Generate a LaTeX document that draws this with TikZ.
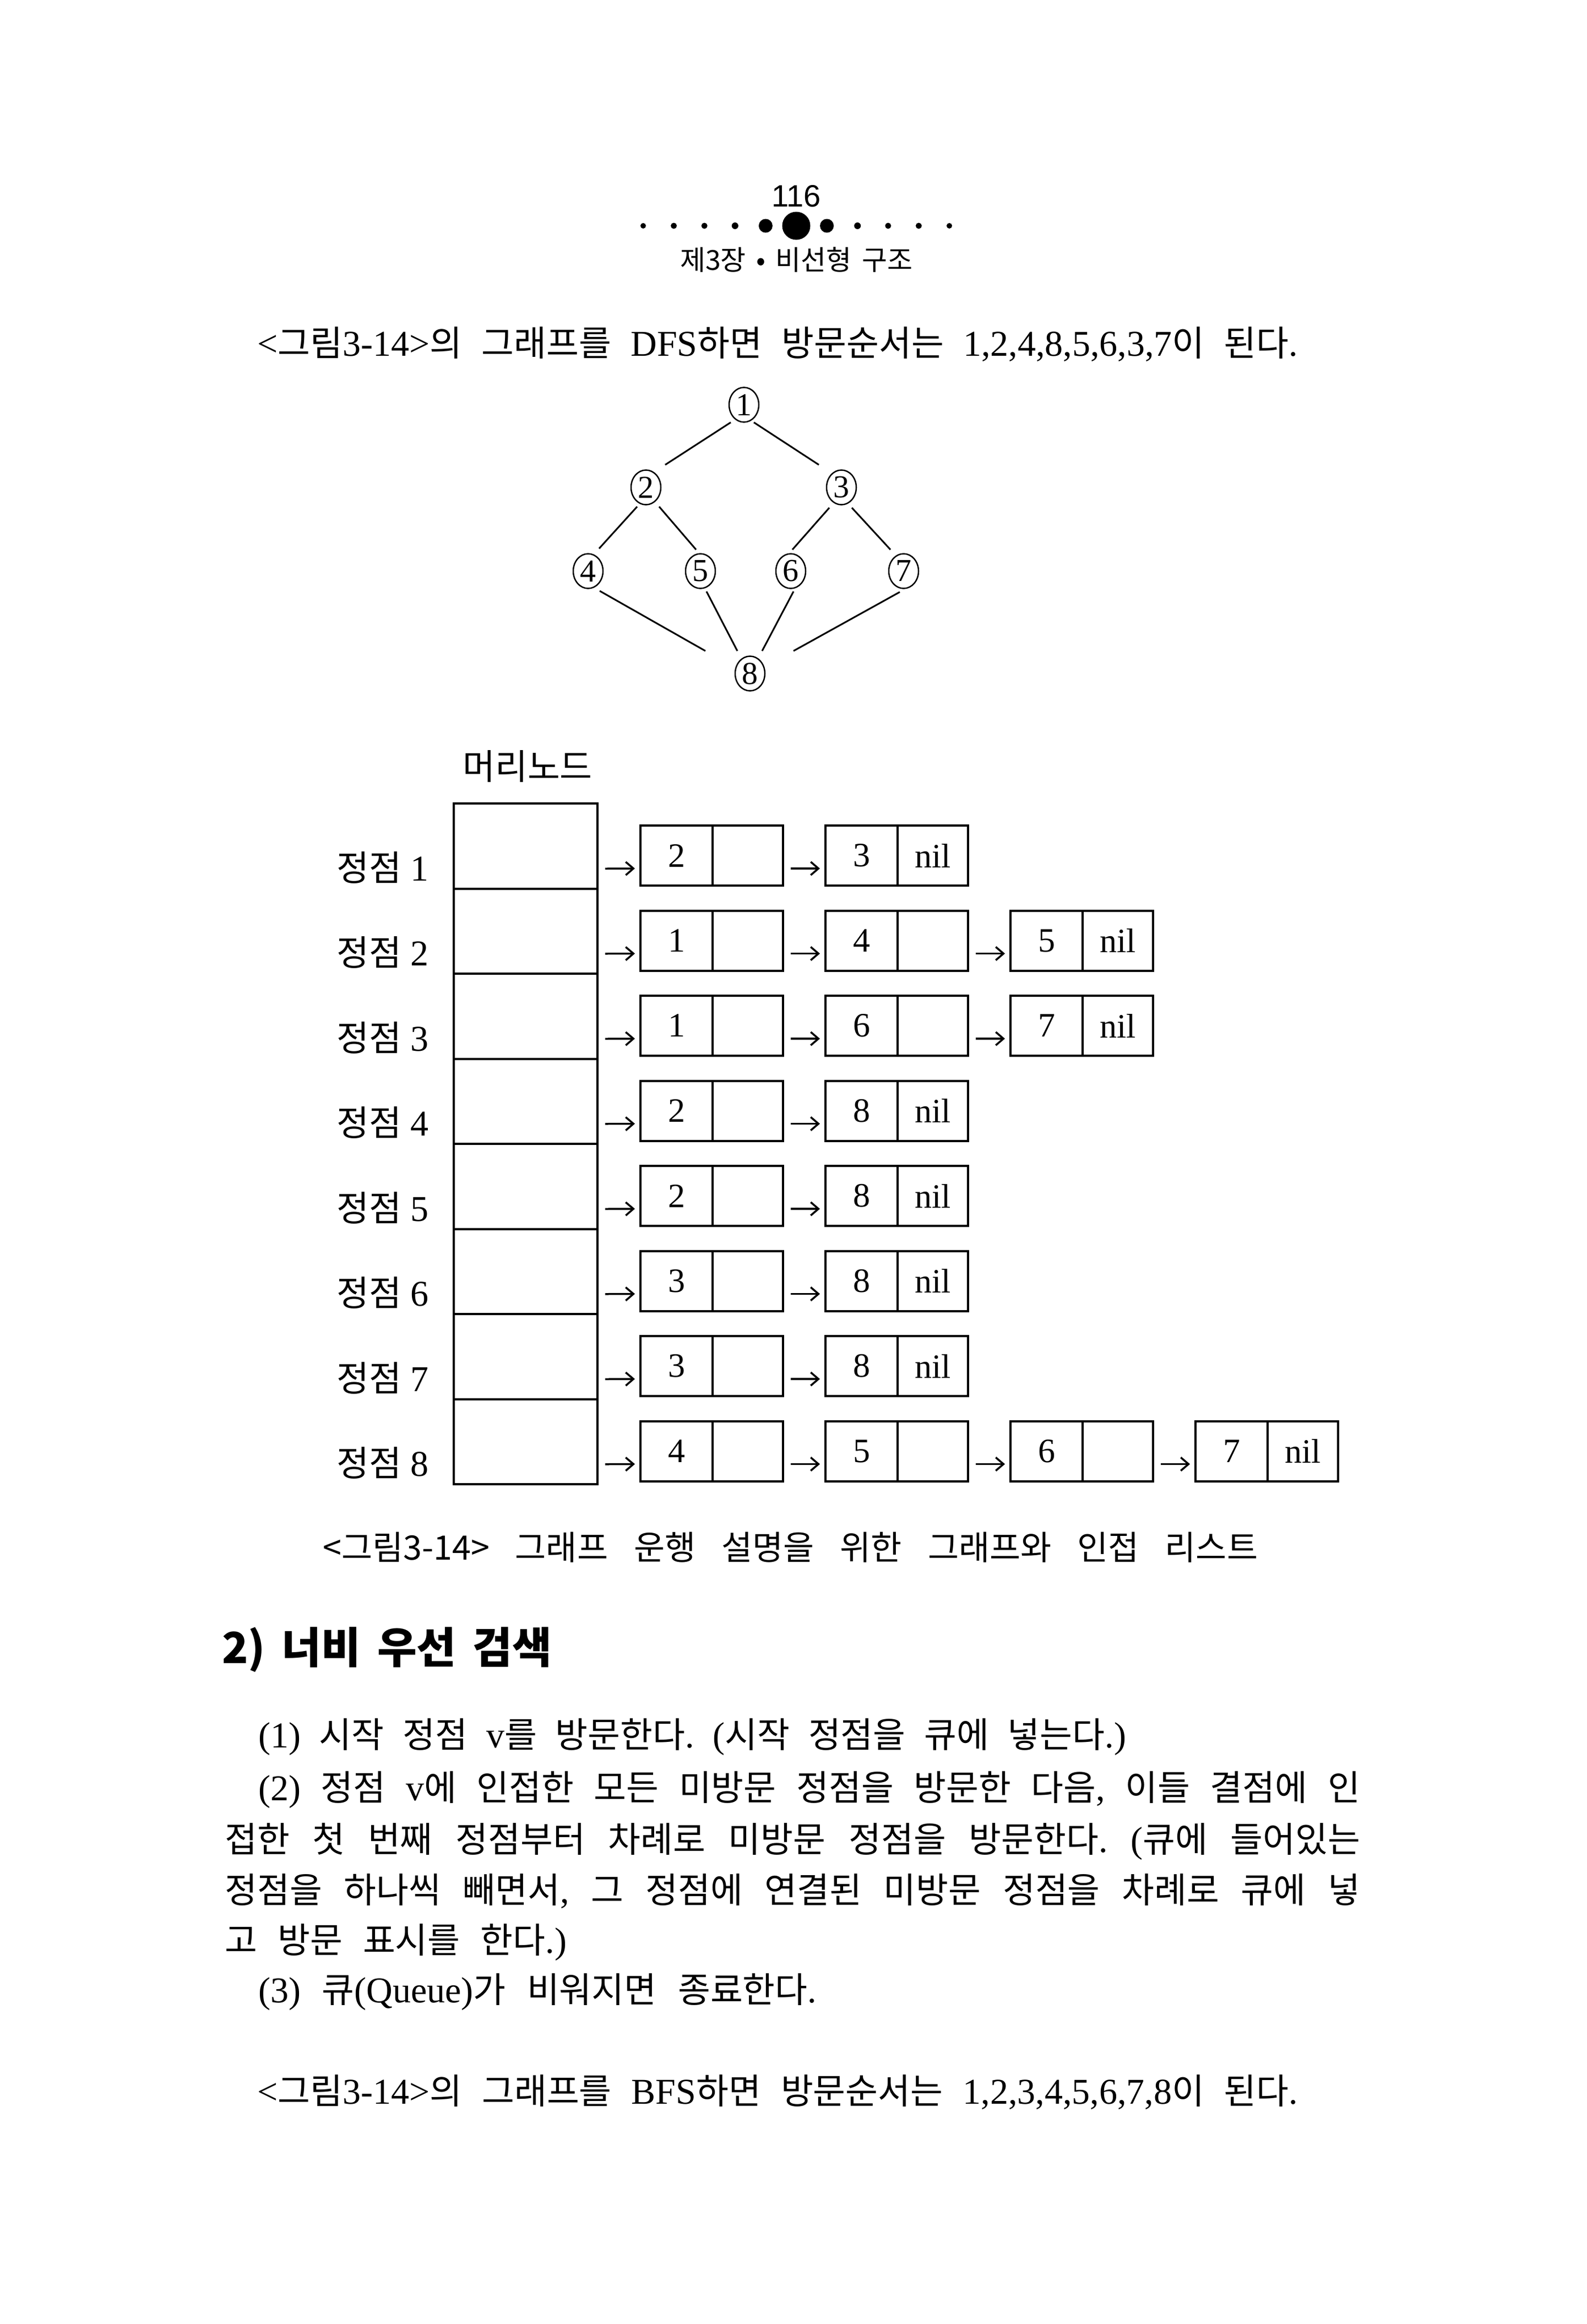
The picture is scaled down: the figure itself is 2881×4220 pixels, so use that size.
\documentclass[tikz,border=0pt]{standalone}
\usepackage{fontspec}
\setmainfont{Liberation Serif}
\newfontfamily\krfont[Scale=0.97]{Noto Sans CJK KR}
\newfontfamily\krsans{Noto Sans CJK KR}
\newfontfamily\lsans{Liberation Sans}
\usetikzlibrary{shapes.geometric,arrows.meta,calc}
\XeTeXinterchartokenstate=1
\newXeTeXintercharclass\KRclass
\newcount\krc
\krc="AC00
\loop
  \XeTeXcharclass\krc=\KRclass
  \ifnum\krc<"D7A3 \advance\krc by 1 \repeat
\def\latfont{\rmfamily}
\XeTeXinterchartoks 0 \KRclass = {\krfont}
\XeTeXinterchartoks 4095 \KRclass = {\krfont}
\XeTeXinterchartoks \KRclass 0 = {\latfont}
\XeTeXinterchartoks \KRclass 4095 = {\latfont}
\def\nointer{\XeTeXinterchartokenstate=0 }
\AtBeginDocument{\frenchspacing}
\begin{document}
\begin{tikzpicture}[x=1pt,y=-1pt,
  cellbox/.style={draw,line width=4pt,inner sep=0pt,minimum height=109pt,font=\fontsize{62}{66}\selectfont},
  cellL/.style={cellbox,minimum width=131pt},
  cellR/.style={cellbox,minimum width=128pt},
  headbox/.style={draw,line width=4pt,minimum width=261pt,minimum height=154.5pt,inner sep=0pt},
  arr/.style={line width=3.5pt,-{Straight Barb[length=14pt,width=24pt]}},
  vtx/.style={draw,ellipse,line width=2.5pt,minimum width=54pt,minimum height=63pt,inner sep=0pt,font=\fontsize{58}{60}\selectfont},
  treeline/.style={line width=3pt},
  bodytext/.style={inner sep=0pt,anchor=base west,font=\frenchspacing\fontsize{66}{72}\selectfont},
  lbl/.style={inner sep=0pt,anchor=base,font=\fontsize{66}{72}\selectfont},
  capt/.style={inner sep=0pt,anchor=base west,font=\nointer\krsans\fontsize{61}{66}\selectfont},
  headg/.style={inner sep=0pt,anchor=base west,font=\nointer\krsans\bfseries\fontsize{78}{84}\selectfont},
  pagenum/.style={inner sep=0pt,anchor=base,font=\lsans\fontsize{56}{60}\selectfont},
  chap/.style={inner sep=0pt,anchor=base,font=\nointer\krsans\fontsize{50}{55}\selectfont}
]
\fill[white] (0,0) rectangle (2881,4220);
\useasboundingbox (0,0) rectangle (2881,4220);

% header
\node[pagenum] (pnum) at (1446,375) {116};
\foreach \k/\rr in {0/5,1/5.5,2/5.5,3/6,4/12.5,5/25.5,6/12.5,7/6,8/5.5,9/5.5,10/5}
  \fill (1168+55.6*\k,410) circle (\rr);
\node[chap] (chap) at (1446,490) {\makebox[422pt][s]{제3장 • 비선형 구조}};

% DFS line
\node[bodytext] (dfs) at (467,646) {\makebox[1890pt][s]{<그림3-14>의 그래프를 DFS하면 방문순서는 1,2,4,8,5,6,3,7이 된다.}};

% tree
\node[vtx] (v1) at (1351,735) {1};
\node[vtx] (v2) at (1173,885) {2};
\node[vtx] (v3) at (1528,885) {3};
\node[vtx] (v4) at (1068,1037) {4};
\node[vtx] (v5) at (1272,1037) {5};
\node[vtx] (v6) at (1436,1037) {6};
\node[vtx] (v7) at (1641,1037) {7};
\node[vtx] (v8) at (1362,1223) {8};
\draw[treeline] ($(v1)+(-24,32)$) -- ($(v2)+(35,-41)$);
\draw[treeline] ($(v1)+(18,32)$) -- ($(v3)+(-41,-41)$);
\draw[treeline] ($(v2)+(-16,35)$) -- ($(v4)+(20,-41)$);
\draw[treeline] ($(v2)+(24,35)$) -- ($(v5)+(-8,-39)$);
\draw[treeline] ($(v3)+(-22,37)$) -- ($(v6)+(3,-39)$);
\draw[treeline] ($(v3)+(19,37)$) -- ($(v7)+(-24,-39)$);
\draw[treeline] ($(v4)+(21,36)$) -- ($(v8)+(-81,-41)$);
\draw[treeline] ($(v5)+(11,37)$) -- ($(v8)+(-23,-41)$);
\draw[treeline] ($(v6)+(5,37)$) -- ($(v8)+(22,-41)$);
\draw[treeline] ($(v7)+(-7,38)$) -- ($(v8)+(79,-41)$);

% adjacency list
\node[bodytext] (headlbl) at (840,1415) {머리노드};
\foreach \ro/\nn/\items in {1/2/{2,3},2/3/{1,4,5},3/3/{1,6,7},4/2/{2,8},5/2/{2,8},6/2/{3,8},7/2/{3,8},8/4/{4,5,6,7}} {
  \pgfmathsetmacro\rt{1459+154.5*(\ro-1)}
  \node[headbox] (h\ro) at (954.5,\rt+77.25) {};
  \node[lbl] (lab\ro) at (695,\rt+140) {정점 \ro};
  \foreach \v [count=\k] in \items {
    \pgfmathsetmacro\xl{1163+336*(\k-1)}
    \node[cellL] (c\ro x\k) at (\xl+65.5,\rt+94.5) {\v};
    \node[cellR] (d\ro x\k) at (\xl+195,\rt+94.5) {\ifnum\k=\nn\relax nil\fi};
  }
  \draw[arr] ($(h\ro.east)+(12,41)$) -- ($(c\ro x1.west)+(-8,23.5)$);
  \foreach \k in {2,...,\nn} {
    \pgfmathtruncatemacro\pk{\k-1}
    \draw[arr] ($(d\ro x\pk.east)+(12,23.5)$) -- ($(c\ro x\k.west)+(-8,23.5)$);
  }
}

% caption
\node[capt] (cap) at (586,2832) {\makebox[1698pt][s]{<그림3-14> 그래프 운행 설명을 위한 그래프와 인접 리스트}};

% heading
\node[headg] (hd) at (403,3020) {\makebox[599pt][s]{2) 너비 우선 검색}};

% paragraph
\node[bodytext] (p1) at (469,3173) {\makebox[1576pt][s]{(1) 시작 정점 v를 방문한다. (시작 정점을 큐에 넣는다.)}};
\node[bodytext] (p2) at (469,3269) {\makebox[2001pt][s]{(2) 정점 v에 인접한 모든 미방문 정점을 방문한 다음, 이들 결점에 인}};
\node[bodytext] (p3) at (408,3363) {\makebox[2062pt][s]{접한 첫 번째 정점부터 차례로 미방문 정점을 방문한다. (큐에 들어있는}};
\node[bodytext] (p4) at (408,3455) {\makebox[2062pt][s]{정점을 하나씩 빼면서, 그 정점에 연결된 미방문 정점을 차례로 큐에 넣}};
\node[bodytext] (p5) at (408,3546) {\makebox[621pt][s]{고 방문 표시를 한다.)}};
\node[bodytext] (p6) at (469,3636) {\makebox[1014pt][s]{(3) 큐(Queue)가 비워지면 종료한다.}};

% BFS line
\node[bodytext] (bfs) at (467,3820) {\makebox[1890pt][s]{<그림3-14>의 그래프를 BFS하면 방문순서는 1,2,3,4,5,6,7,8이 된다.}};
\end{tikzpicture}
\end{document}
